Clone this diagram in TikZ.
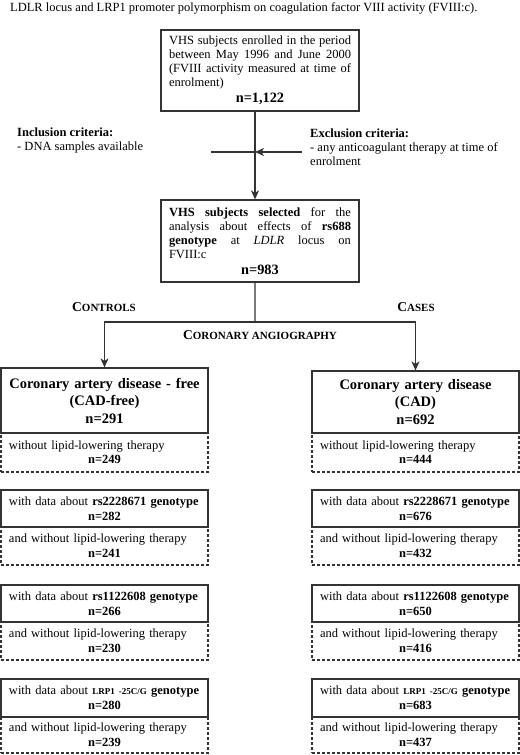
\documentclass[tikz,border=0pt]{standalone}
\usepackage{fontspec}
\setmainfont{Liberation Serif}
\usetikzlibrary{arrows.meta}
\definecolor{linec}{HTML}{333333}
\newcommand\fsBody{\fontsize{12.5bp}{14bp}\selectfont}
\newcommand\fsPair{\fontsize{12.5bp}{15bp}\selectfont}
\newcommand\fsBig{\fontsize{14.5bp}{17.5bp}\selectfont}
\newcommand\fsN{\fontsize{14.3bp}{16bp}\selectfont}
\newcommand\fsSC{\fontsize{11bp}{13bp}\selectfont}
\newcommand\fsCap{\fontsize{13.5bp}{15bp}\selectfont}
\newcommand\fsLrp{\fontsize{9bp}{15bp}\selectfont}
\begin{document}
\begin{tikzpicture}[x=1bp,y=-1bp]
\tikzset{
  box/.style={draw=linec, line width=1.2bp, inner xsep=8bp, inner ysep=0bp, text=black},
  dbox/.style={box, dash pattern=on 3bp off 2bp},
  conn/.style={draw=linec, line width=1.2bp},
  arr/.style={conn, -{Stealth[length=9bp, width=8bp, inset=2.5bp]}},
  plain/.style={inner sep=0pt, font=\fsBody, align=left},
  capt/.style={inner sep=0pt, font=\bfseries},
  sidebox/.style={box, text width=191bp, font=\fsPair},
}
\fill[white] (0,0) rectangle (520,755);
\useasboundingbox (0,0) rectangle (520,755);

% title
\node[plain, anchor=west] (title) at (10,8) {LDLR locus and LRP1 promoter polymorphism on coagulation factor VIII activity (FVIII:c).};

% top boxes
\node[box, text width=182bp, minimum height=81bp, align=justify, font=\fsBody] (top) at (260,70.5)
  {VHS subjects enrolled in the period\linebreak between May 1996 and June 2000\linebreak (FVIII activity measured at time of\linebreak enrolment)\par{\centering\fsN\bfseries n=1,122\par}};
\node[box, text width=182bp, minimum height=82bp, align=justify, font=\fsBody] (sel) at (260,241)
  {\textbf{VHS subjects selected} for the\linebreak analysis about effects of \textbf{rs688}\linebreak \textbf{genotype} at \textit{LDLR} locus on\linebreak FVIII:c\par{\centering\fsN\bfseries n=983\par}};

% criteria
\node[plain, anchor=west] (incl) at (17,140) {\textbf{Inclusion criteria:}\\- DNA samples available};
\node[plain, anchor=west] (excl) at (310,147) {\textbf{Exclusion criteria:}\\- any anticoagulant therapy at time of\\enrolment};

% group labels
\node[capt] (ctrl) at (104,307) {{\fsCap C}{\fsSC ONTROLS}};
\node[capt] (cases) at (416,307) {{\fsCap C}{\fsSC ASES}};
\node[capt] (angio) at (260,335) {{\fsCap C}{\fsSC ORONARY ANGIOGRAPHY}};

% dashed boxes (drawn first)
\node[dbox, text width=191bp, minimum height=39bp, font=\fsBody] (d1L) at (104.5,452.5)
  {without lipid-lowering therapy\par{\centering\bfseries n=249\par}};
\node[dbox, text width=191bp, minimum height=39bp, font=\fsBody] (d1R) at (415.5,452.5)
  {without lipid-lowering therapy\par{\centering\bfseries n=444\par}};
\node[dbox, sidebox, minimum height=38bp] (d2L) at (104.5,546) {and without lipid-lowering therapy\par{\centering\bfseries n=241\par}};
\node[dbox, sidebox, minimum height=38bp] (d2R) at (415.5,546) {and without lipid-lowering therapy\par{\centering\bfseries n=432\par}};
\node[dbox, sidebox, minimum height=38bp] (d3L) at (104.5,641) {and without lipid-lowering therapy\par{\centering\bfseries n=230\par}};
\node[dbox, sidebox, minimum height=38bp] (d3R) at (415.5,641) {and without lipid-lowering therapy\par{\centering\bfseries n=416\par}};
\node[dbox, sidebox, minimum height=36bp] (d4L) at (104.5,735) {and without lipid-lowering therapy\par{\centering\bfseries n=239\par}};
\node[dbox, sidebox, minimum height=36bp] (d4R) at (415.5,735) {and without lipid-lowering therapy\par{\centering\bfseries n=437\par}};

% solid boxes
\node[box, text width=191bp, minimum height=65bp, align=center, font=\fsBig\bfseries] (bigL) at (104.5,400.5)
  {Coronary artery disease - free\\(CAD-free)\\n=291};
\node[box, text width=191bp, minimum height=62bp, align=center, font=\fsBig\bfseries] (bigR) at (415.5,402)
  {Coronary artery disease\\(CAD)\\n=692};
\node[sidebox, minimum height=37bp] (s2L) at (104.5,508.5) {with data about \textbf{rs2228671 genotype}\par{\centering\bfseries n=282\par}};
\node[sidebox, minimum height=37bp] (s2R) at (415.5,508.5) {with data about \textbf{rs2228671 genotype}\par{\centering\bfseries n=676\par}};
\node[sidebox, minimum height=37bp] (s3L) at (104.5,603.5) {with data about \textbf{rs1122608 genotype}\par{\centering\bfseries n=266\par}};
\node[sidebox, minimum height=37bp] (s3R) at (415.5,603.5) {with data about \textbf{rs1122608 genotype}\par{\centering\bfseries n=650\par}};
\node[sidebox, minimum height=38bp] (s4L) at (104.5,698) {with data about {\bfseries\fsLrp LRP1 -25C/G} \textbf{genotype}\par{\centering\bfseries n=280\par}};
\node[sidebox, minimum height=38bp] (s4R) at (415.5,698) {with data about {\bfseries\fsLrp LRP1 -25C/G} \textbf{genotype}\par{\centering\bfseries n=683\par}};

% connectors
\coordinate (inL) at (211,152);
\coordinate (exR) at (302,152);
\coordinate (cross) at (255,152);
\coordinate (split) at (255,322);
\draw[arr] ([xshift=-5bp]top.south) -- ([xshift=-5bp]sel.north);
\draw[conn] (inL) -- (cross);
\draw[arr] (exR) -- (cross);
\draw[conn] ([xshift=-5bp]sel.south) -- (split);
\draw[arr] (split) -| (bigL.north);
\draw[arr] (split) -| (bigR.north);
\end{tikzpicture}
\end{document}
